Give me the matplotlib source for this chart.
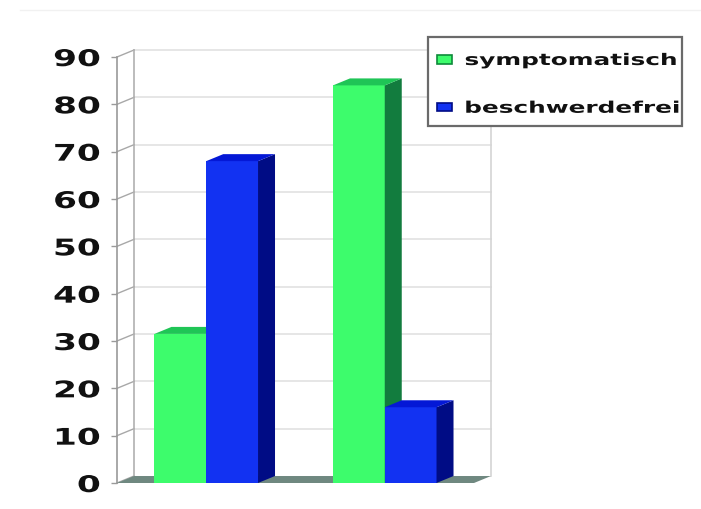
import matplotlib
matplotlib.use("Agg")
import matplotlib.pyplot as plt
import matplotlib.patheffects as pe
from matplotlib.lines import Line2D
from matplotlib.patches import Patch, Polygon, Rectangle
from matplotlib.transforms import Affine2D

W, H = 701, 510

groups = [0.5, 1.5]
symptomatisch = [31.5, 84]
beschwerdefrei = [68, 16]
series_names = ["symptomatisch", "beschwerdefrei"]
yticks = [0, 10, 20, 30, 40, 50, 60, 70, 80, 90]

BAR_W = 0.29
# depth of the fake 3d, in data units
DX = 17 / 178.5
DY = 7 / 47.4 * 10

GREEN = ("#3dfc6c", "#127c3e", "#1fc556")  # front, side, top
BLUE = ("#1232f2", "#000c85", "#0418d6")


class Stretch(pe.AbstractPathEffect):
  # the labels in the picture are much wider than any installed bold font
  def __init__(self, sx, anchor="right"):
    super().__init__()
    self.sx = sx
    self.anchor = anchor

  def draw_path(self, renderer, gc, tpath, affine, rgbFace):
    box = tpath.get_extents()
    x0 = box.xmax if self.anchor == "right" else box.xmin
    t = Affine2D().translate(-x0, 0).scale(self.sx, 1).translate(x0, 0)
    renderer.draw_path(gc, tpath, t + affine, rgbFace)


def bar3d(ax, x, val, colors):
  left, right = x, x + BAR_W
  ax.bar(left, val, BAR_W, align="edge", color=colors[0], zorder=3)
  side = [(right, 0), (right + DX, DY), (right + DX, val + DY), (right, val)]
  top = [(left, val), (left + DX, val + DY), (right + DX, val + DY), (right, val)]
  ax.add_patch(Polygon(side, color=colors[1], lw=0, zorder=3, clip_on=False))
  ax.add_patch(Polygon(top, color=colors[2], lw=0, zorder=3, clip_on=False))


fig = plt.figure(figsize=(W / 100, H / 100), dpi=100, facecolor="white")
ax = fig.add_axes([117 / W, 1 - 484 / H, 357 / W, 426 / H])
ax.set_xlim(0, 2)
ax.set_ylim(0, 90)
ax.patch.set_alpha(0)
for s in ax.spines.values():
  s.set_visible(False)

# faint line at the top of the scan
fig.add_artist(Line2D([20 / W, 1], [1 - 11 / H, 1 - 11 / H], color="#f1f1f1", lw=1))

# back wall and left wall
for t in yticks:
  if t > 0:
    ax.plot([DX, 2 + DX], [t + DY, t + DY], color="#e4e4e4", lw=1.3, zorder=1, clip_on=False)
  ax.plot([0, DX], [t, t + DY], color="#a8a8a8", lw=1, zorder=1, clip_on=False)
ax.plot([0, 0], [0, 90], color="#9a9a9a", lw=1.2, zorder=1, clip_on=False)
ax.plot([DX, DX], [DY, 90 + DY], color="#b0b0b0", lw=1.2, zorder=1, clip_on=False)
ax.plot([2 + DX, 2 + DX], [DY, 90 + DY], color="#d4d4d4", lw=1.2, zorder=1, clip_on=False)

# floor
floor = [(0, 0), (DX, DY), (2 + DX, DY), (2, 0)]
ax.add_patch(Polygon(floor, color="#6f8880", lw=0, zorder=2, clip_on=False))

for i, x in enumerate(groups):
  bar3d(ax, x - BAR_W, symptomatisch[i], GREEN)
  bar3d(ax, x, beschwerdefrei[i], BLUE)

ax.set_xticks([])
ax.set_yticks(yticks)
ax.set_yticklabels([str(t) for t in yticks], family="DejaVu Sans", fontweight="bold",
                   fontsize=16.5, color="#111111")
ax.tick_params(axis="y", length=4, width=1, color="#9a9a9a", pad=8)
for lab in ax.get_yticklabels():
  lab.set_path_effects([Stretch(1.5)])

# legend frame on its own, the inner padding differs in x and y
frame = Rectangle((428 / W, 1 - 127 / H), 254 / W, 89 / H, transform=fig.transFigure,
                  facecolor="white", edgecolor="#6a6a6a", lw=1.6, zorder=4)
fig.add_artist(frame)

handles = [Patch(facecolor=GREEN[0], edgecolor="#0d8a3a", lw=1.2),
           Patch(facecolor=BLUE[0], edgecolor="#000c85", lw=1.2)]
leg = fig.legend(handles, series_names, loc="upper left",
                 bbox_to_anchor=(437 / W, 1 - 54 / H), frameon=False,
                 borderpad=0, labelspacing=2.05, handlelength=0.95, handleheight=0.45,
                 handletextpad=0.8, borderaxespad=0,
                 prop={"family": "DejaVu Sans", "weight": "bold", "size": 11.5})
leg.set_zorder(5)
for txt in leg.get_texts():
  txt.set_color("#111111")
  txt.set_path_effects([Stretch(1.55, "left")])

fig.savefig("out.png", dpi=100)
